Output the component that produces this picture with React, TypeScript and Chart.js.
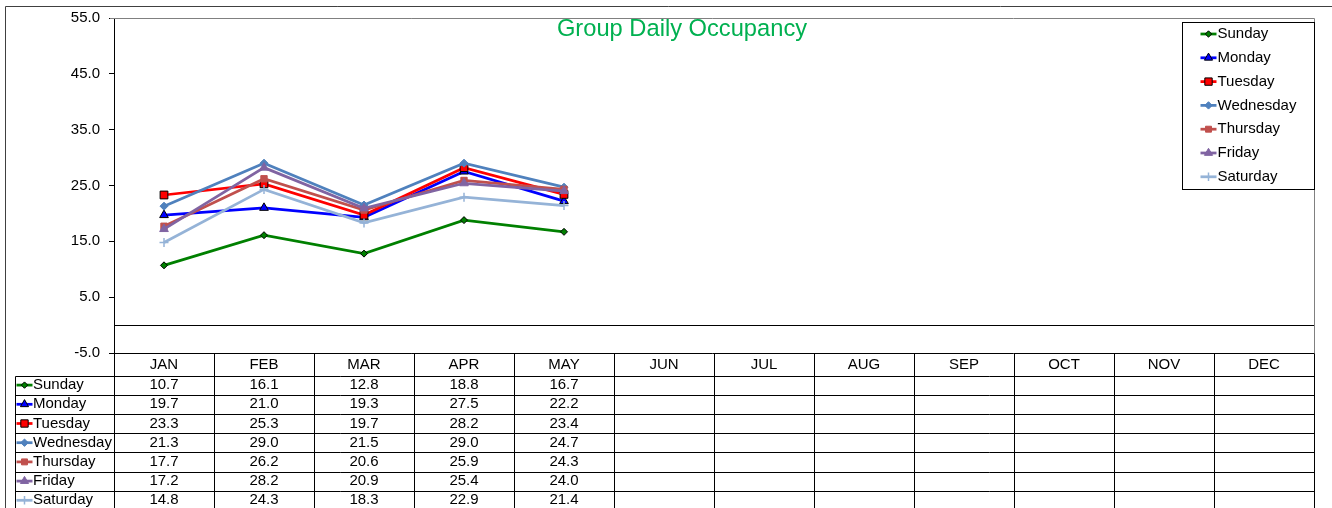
import React, { useEffect, useRef } from 'react';
import { Chart, registerables } from 'chart.js';
import { drawPoint } from 'chart.js/helpers';

Chart.register(...registerables);

const months = ['JAN', 'FEB', 'MAR', 'APR', 'MAY', 'JUN', 'JUL', 'AUG', 'SEP', 'OCT', 'NOV', 'DEC'];
const seriesNames = ['Sunday', 'Monday', 'Tuesday', 'Wednesday', 'Thursday', 'Friday', 'Saturday'];
const sunday = [10.7, 16.1, 12.8, 18.8, 16.7];
const monday = [19.7, 21.0, 19.3, 27.5, 22.2];
const tuesday = [23.3, 25.3, 19.7, 28.2, 23.4];
const wednesday = [21.3, 29.0, 21.5, 29.0, 24.7];
const thursday = [17.7, 26.2, 20.6, 25.9, 24.3];
const friday = [17.2, 28.2, 20.9, 25.4, 24.0];
const saturday = [14.8, 24.3, 18.3, 22.9, 21.4];
const seriesValues = [sunday, monday, tuesday, wednesday, thursday, friday, saturday];
const yMin = -5;
const yMax = 55;
const yStep = 10;
const titleText = 'Group Daily Occupancy';

const FONT = '"Liberation Sans", Arial, sans-serif';

const styles = [
  { color: '#008000', fill: '#008000', border: '#000000', pointStyle: 'rectRot', radius: 3.5 },
  { color: '#0000FF', fill: '#0000FF', border: '#000000', pointStyle: 'triangle', radius: 5 },
  { color: '#FF0000', fill: '#FF0000', border: '#000000', pointStyle: 'rect', radius: 5.5 },
  { color: '#4F81BD', fill: '#4F81BD', border: '#4F81BD', pointStyle: 'rectRot', radius: 4 },
  { color: '#C0504D', fill: '#C0504D', border: '#C0504D', pointStyle: 'rect', radius: 4.5 },
  { color: '#8064A2', fill: '#8064A2', border: '#8064A2', pointStyle: 'triangle', radius: 5 },
  { color: '#95B3D7', fill: '#95B3D7', border: '#95B3D7', pointStyle: 'cross', radius: 4.5 },
];

function marker(ctx: CanvasRenderingContext2D, i: number, x: number, y: number, lineHalf: number) {
  const s = styles[i];
  ctx.save();
  ctx.strokeStyle = s.color;
  ctx.lineWidth = 2.75;
  ctx.beginPath();
  ctx.moveTo(x - lineHalf, y);
  ctx.lineTo(x + lineHalf, y);
  ctx.stroke();
  ctx.fillStyle = s.fill;
  ctx.strokeStyle = s.pointStyle === 'cross' ? s.color : s.border;
  ctx.lineWidth = s.pointStyle === 'cross' ? 1.5 : 1;
  drawPoint(ctx, { pointStyle: s.pointStyle as any, radius: s.radius - 0.3, rotation: 0, borderWidth: 1 }, x, y);
  ctx.restore();
}

const decorPlugin = {
  id: 'decor',
  beforeDraw(chart: any) {
    const ctx = chart.ctx as CanvasRenderingContext2D;
    ctx.save();
    ctx.fillStyle = '#ffffff';
    ctx.fillRect(0, 0, chart.width, chart.height);
    ctx.restore();
  },
  beforeDatasetsDraw(chart: any) {
    const ctx = chart.ctx as CanvasRenderingContext2D;
    const { left, right } = chart.chartArea;
    const y0 = Math.round(chart.scales.y.getPixelForValue(0)) + 0.5;
    ctx.save();
    ctx.strokeStyle = '#000000';
    ctx.lineWidth = 1;
    ctx.beginPath();
    ctx.moveTo(left, y0);
    ctx.lineTo(right, y0);
    ctx.stroke();
    ctx.restore();
  },
  afterDraw(chart: any) {
    const ctx = chart.ctx as CanvasRenderingContext2D;
    const { left, right, top, bottom } = chart.chartArea;
    const xs = chart.scales.x;
    const half = (xs.getPixelForValue(1) - xs.getPixelForValue(0)) / 2;
    ctx.save();

    // outer frame
    ctx.strokeStyle = '#404040';
    ctx.lineWidth = 1;
    ctx.beginPath();
    ctx.moveTo(5.5, chart.height);
    ctx.lineTo(5.5, 6.5);
    ctx.lineTo(chart.width, 6.5);
    ctx.stroke();

    // plot area top and right borders
    ctx.strokeStyle = '#808080';
    ctx.beginPath();
    ctx.moveTo(left - 4, Math.round(top) + 0.5);
    ctx.lineTo(Math.round(right) + 0.5, Math.round(top) + 0.5);
    ctx.lineTo(Math.round(right) + 0.5, Math.round(bottom));
    ctx.stroke();

    // title
    ctx.fillStyle = '#00B050';
    ctx.font = `23.7px ${FONT}`;
    ctx.textAlign = 'center';
    ctx.textBaseline = 'middle';
    ctx.fillText(titleText, 682, 29);

    // data table
    const headerTop = Math.round(bottom) + 0.5;
    const headerBottom = headerTop + 22;
    const rowH = 19.2;
    const tableLeft = 15.5;
    const tableRight = Math.round(right) + 0.5;
    ctx.strokeStyle = '#000000';
    ctx.lineWidth = 1;
    ctx.beginPath();
    ctx.moveTo(left - 4, headerTop);
    ctx.lineTo(tableRight, headerTop);
    for (let r = 0; r <= seriesNames.length; r++) {
      const yy = Math.round(headerBottom + r * rowH) + 0.5;
      ctx.moveTo(tableLeft, yy);
      ctx.lineTo(tableRight, yy);
    }
    for (let c = 0; c <= months.length; c++) {
      const xx = Math.round(xs.getPixelForValue(0) - half + c * 2 * half) + 0.5;
      ctx.moveTo(xx, headerTop);
      ctx.lineTo(xx, chart.height);
    }
    ctx.moveTo(tableLeft, Math.round(headerBottom) + 0.5);
    ctx.lineTo(tableLeft, chart.height);
    ctx.stroke();

    ctx.fillStyle = '#000000';
    ctx.font = `15px ${FONT}`;
    ctx.textAlign = 'center';
    ctx.textBaseline = 'middle';
    months.forEach((m, c) => {
      ctx.fillText(m, xs.getPixelForValue(c), headerTop + 11);
    });
    seriesNames.forEach((name, r) => {
      const cy = headerBottom + r * rowH + rowH / 2;
      seriesValues[r].forEach((v, c) => {
        ctx.fillStyle = '#000000';
        ctx.textAlign = 'center';
        ctx.fillText(v.toFixed(1), xs.getPixelForValue(c), cy);
      });
      marker(ctx, r, 24.5, cy, 8);
      ctx.fillStyle = '#000000';
      ctx.textAlign = 'left';
      ctx.fillText(name, 33, cy);
    });

    // legend box
    const lgLeft = Math.round(right) - 131.5;
    const lgTop = 22.5;
    const lgBottom = 189.5;
    ctx.fillStyle = '#ffffff';
    ctx.fillRect(lgLeft, lgTop, Math.round(right) + 0.5 - lgLeft, lgBottom - lgTop);
    ctx.strokeStyle = '#000000';
    ctx.strokeRect(lgLeft, lgTop, Math.round(right) + 0.5 - lgLeft, lgBottom - lgTop);
    seriesNames.forEach((name, r) => {
      const cy = 34 + r * 23.8;
      marker(ctx, r, lgLeft + 26, cy, 8);
      ctx.fillStyle = '#000000';
      ctx.textAlign = 'left';
      ctx.textBaseline = 'middle';
      ctx.font = `15px ${FONT}`;
      ctx.fillText(name, lgLeft + 35, cy);
    });
    ctx.restore();
  },
};

export default function App() {
  const canvasRef = useRef<HTMLCanvasElement | null>(null);

  useEffect(() => {
    document.body.style.margin = '0';
    const canvas = canvasRef.current;
    if (!canvas) return;
    const chart = new Chart(canvas, {
      type: 'line',
      data: {
        labels: months,
        datasets: seriesNames.map((name, i) => ({
          label: name,
          data: seriesValues[i],
          borderColor: styles[i].color,
          backgroundColor: styles[i].fill,
          borderWidth: 2.75,
          tension: 0,
          pointStyle: styles[i].pointStyle as any,
          pointRadius: styles[i].radius,
          pointBackgroundColor: styles[i].fill,
          pointBorderColor: styles[i].border,
          pointBorderWidth: styles[i].pointStyle === 'cross' ? 1.5 : 1,
          order: seriesNames.length - i,
          fill: false,
        })),
      },
      options: {
        responsive: false,
        animation: false,
        devicePixelRatio: 1,
        layout: { padding: { left: 0, top: 15, right: 18, bottom: 155 } },
        plugins: {
          legend: { display: false },
          title: { display: false },
          tooltip: { enabled: false },
        },
        scales: {
          x: {
            type: 'category',
            display: false,
            offset: true,
          },
          y: {
            min: yMin,
            max: yMax,
            afterFit: (s: any) => { s.width = 114; },
            ticks: {
              stepSize: yStep,
              color: '#000000',
              padding: 9,
              font: { family: FONT, size: 15 },
              callback: (v: any) => Number(v).toFixed(1),
            },
            grid: {
              drawOnChartArea: false,
              drawTicks: true,
              tickLength: 5,
              tickColor: '#000000',
            },
            border: { display: true, color: '#000000', width: 1 },
          },
        },
      },
      plugins: [decorPlugin],
    });
    return () => chart.destroy();
  }, []);

  return (
    <div style={{ position: 'absolute', left: 0, top: 0, width: 1332, height: 508 }}>
      <canvas ref={canvasRef} width={1332} height={508} style={{ display: 'block' }} />
    </div>
  );
}
